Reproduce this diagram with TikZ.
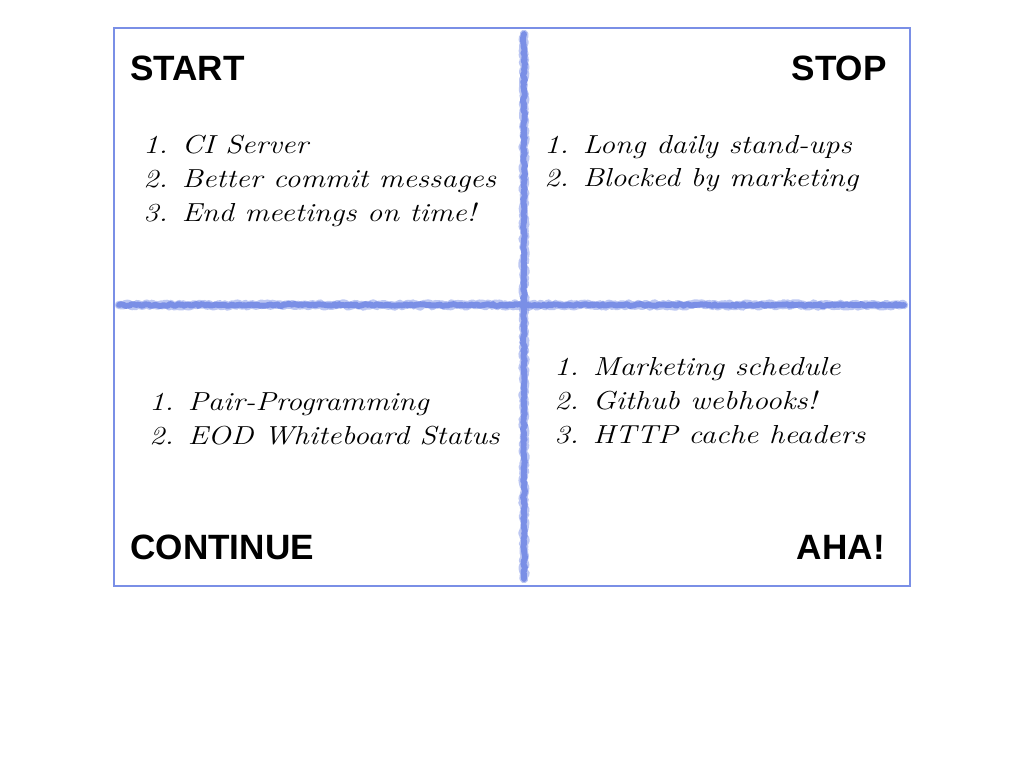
\documentclass[tikz,border=0pt]{standalone}
\usepackage{fontspec}
\usepackage{xcolor}
\usetikzlibrary{positioning}
\usetikzlibrary{decorations.pathmorphing}
\newfontfamily\headfont{Liberation Sans}
\newfontfamily\handfont[FakeStretch=1.17]{Latin Modern Roman}
\definecolor{chalk}{RGB}{122,143,230}
\tikzset{
heading/.style={inner sep=0pt, font=\headfont\bfseries\fontsize{25}{28}\selectfont},
notes/.style={inner sep=0pt, align=left, font=\handfont\itshape\fontsize{18.5}{24.1}\selectfont},
chalkline/.style={chalk, line width=4.2pt, line join=round, line cap=round,
	decorate, decoration={random steps, segment length=1.5pt, amplitude=0.7pt}},
}

\begin{document}
\begin{tikzpicture}[x=0.025cm, y=-0.025cm]
	\useasboundingbox (0,0) rectangle (1024,768);
	%
	\draw[chalk, line width=1.3pt] (114,28) rectangle (910,586);
	
	%
	\coordinate (vtop) at (524,34);
	\coordinate (vbot) at (524,579);
	\coordinate (hleft) at (119,305);
	\coordinate (hright) at (904,305);
	\draw[chalkline] (vtop) -- (vbot);
	\draw[chalkline] (hleft) -- (hright);
	\draw[chalkline, line width=6pt, opacity=0.5, decoration={amplitude=1.1pt}] (vtop) -- (vbot);
	\draw[chalkline, line width=6pt, opacity=0.5, decoration={amplitude=1.1pt}] (hleft) -- (hright);
	
	%
	\node[heading, anchor=base west] (start) at (130,81) {START};
	\node[heading, anchor=base east] (stop) at (887,81) {STOP};
	\node[heading, anchor=base west] (continue) at (130,559) {CONTINUE};
	\node[heading, anchor=base east] (aha) at (885,559) {AHA!};
	
	%
	\node[notes, anchor=base west] (startlist) at (143,221)
		{1. CI Server\\2. Better commit messages\\3. End meetings on time!};
	\node[notes, anchor=base west] (stoplist) at (544,187)
		{1. Long daily stand-ups\\2. Blocked by marketing};
	\node[notes, anchor=base west] (continuelist) at (149,444)
		{1. Pair-Programming\\2. EOD Whiteboard Status};
	\node[notes, anchor=base west] (ahalist) at (554,443)
		{1. Marketing schedule\\2. Github webhooks!\\3. HTTP cache headers};
\end{tikzpicture}
\end{document}
